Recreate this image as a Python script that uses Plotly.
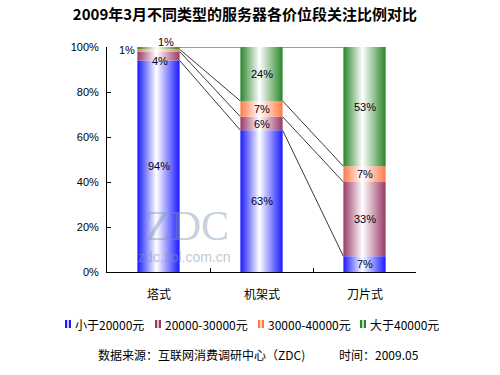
import plotly.graph_objects as go

categories = ["塔式", "机架式", "刀片式"]
series_names = ["小于20000元", "20000-30000元", "30000-40000元", "大于40000元"]
lt_20000 = [94, 63, 7]
s_20000_30000 = [4, 6, 33]
s_30000_40000 = [1, 7, 7]
gt_40000 = [1, 24, 53]
y_ticks = [0, 20, 40, 60, 80, 100]
y_tick_labels = ["0%", "20%", "40%", "60%", "80%", "100%"]

series_values = [lt_20000, s_20000_30000, s_30000_40000, gt_40000]
colors = ["#1a1aff", "#993a66", "#ff7a45", "#2a862a"]
light = ["#c8c8ff", "#dcc0cc", "#ffd0bc", "#bcdcbc"]

FONT = "Liberation Sans, Arial, Noto Sans CJK SC, sans-serif"
CJK = "Noto Sans CJK SC, sans-serif"
W = 0.41  # bar width in category units

# layout geometry (pixels)
L, R, T, B = 107, 84, 47, 103
PW, PH = 500 - L - R, 375 - T - B


def px2x(px):
    return (px - L) / PW


def py2y(py):
    return (375 - B - py) / PH


fig = go.Figure()

n = len(categories)
cum = [[0] * n]
for vals in series_values:
    prev = cum[-1]
    cum.append([prev[i] + vals[i] for i in range(n)])

# series lines (between bars)
for lvl in range(1, len(cum)):
    for i in range(n - 1):
        fig.add_trace(go.Scatter(
            x=[i + W / 2, i + 1 - W / 2], y=[cum[lvl][i], cum[lvl][i + 1]],
            mode="lines", line=dict(color="#3a3a3a", width=1),
            showlegend=False, hoverinfo="skip"))

# gradient bars
for s, (name, vals, col) in enumerate(zip(series_names, series_values, colors)):
    for i in range(n):
        b, t = cum[s][i], cum[s + 1][i]
        fig.add_trace(go.Scatter(
            x=[i - W / 2, i + W / 2, i + W / 2, i - W / 2, i - W / 2],
            y=[b, b, t, t, b],
            fill="toself", mode="lines", line=dict(width=0, color=col),
            fillgradient=dict(type="horizontal",
                              colorscale=[[0, col], [0.45, "#ffffff"], [1, col]]),
            name=name, showlegend=False, hoverinfo="skip"))

# value labels
shifts = {(2, 0): (-32, 0), (3, 0): (7, 6), (1, 0): (1, -5)}
for s, vals in enumerate(series_values):
    for i in range(n):
        xs, ys = shifts.get((s, i), (0, 0))
        fig.add_annotation(x=i, y=(cum[s][i] + cum[s + 1][i]) / 2,
                           text=f"{vals[i]}%", showarrow=False,
                           xshift=xs, yshift=ys,
                           font=dict(family=FONT, size=11, color="#000022"))

# category labels
for i, c in enumerate(categories):
    fig.add_annotation(x=i, y=0, yref="y", text=c, showarrow=False,
                       yanchor="middle", yshift=-21,
                       font=dict(family=CJK, size=12, color="#000000"))
fig.add_annotation(x=-0.74, y=0, text="关注比例", showarrow=False,
                   yanchor="middle", yshift=-21,
                   font=dict(family=CJK, size=12, color="#000000"))

# watermark
fig.add_annotation(xref="paper", yref="paper", x=px2x(187), y=py2y(226),
                   xanchor="center", yanchor="middle",
                   text="ZDC", showarrow=False,
                   font=dict(family="Liberation Serif, serif", size=42,
                             color="rgba(130,150,180,0.45)"))
fig.add_annotation(xref="paper", yref="paper", x=px2x(184), y=py2y(257),
                   xanchor="center", yanchor="middle",
                   text="zdc.zol.com.cn", showarrow=False,
                   font=dict(family=FONT, size=14, color="rgba(130,150,180,0.55)"))

# manual legend (small gradient-like swatches + text)
leg_sym_px = [65, 155, 258, 360]
leg_y = 324
for k, (name, col, lt) in enumerate(zip(series_names, colors, light)):
    sx = leg_sym_px[k]
    for j, c in enumerate([col, lt, col]):
        fig.add_shape(type="rect", xref="paper", yref="paper",
                      x0=px2x(sx + 2 * j), x1=px2x(sx + 2 * j + 2),
                      y0=py2y(leg_y + 4), y1=py2y(leg_y - 4),
                      line=dict(width=0), fillcolor=c)
    fig.add_annotation(xref="paper", yref="paper", x=px2x(sx + 8), y=py2y(leg_y),
                       xanchor="left", yanchor="middle", text=name,
                       showarrow=False,
                       font=dict(family=CJK, size=12, color="#000000"))

# source
fig.add_annotation(xref="paper", yref="paper", x=px2x(96), y=py2y(354),
                   xanchor="left", yanchor="middle",
                   text="数据来源：互联网消费调研中心（ZDC)", showarrow=False,
                   font=dict(family=CJK, size=12, color="#000000"))
fig.add_annotation(xref="paper", yref="paper", x=px2x(337), y=py2y(354),
                   xanchor="left", yanchor="middle",
                   text="时间：2009.05", showarrow=False,
                   font=dict(family=CJK, size=12, color="#000000"))

fig.update_layout(
    width=500, height=375,
    margin=dict(l=L, r=R, t=T, b=B),
    paper_bgcolor="white", plot_bgcolor="white",
    title=dict(text="<b>2009年3月不同类型的服务器各价位段关注比例对比</b>",
               x=0.49, xanchor="center", y=0.96, yanchor="middle",
               font=dict(family=CJK, size=15, color="#000000")),
    showlegend=False,
    xaxis=dict(range=[-0.5, 2.5], tickvals=[0.5, 1.5, 2.5],
               ticktext=["", "", ""], ticks="inside", ticklen=4,
               tickcolor="black", showline=True, linecolor="black",
               showgrid=False, zeroline=False, fixedrange=True),
    yaxis=dict(range=[0, 100], tickmode="array", tickvals=y_ticks,
               ticktext=y_tick_labels,
               ticks="inside", ticklen=4, tickcolor="black",
               showline=True, linecolor="black", showgrid=False,
               zeroline=False, ticklabelstandoff=5, fixedrange=True,
               tickfont=dict(family=FONT, size=11, color="#000000")),
)

fig.write_html("out.html", config={"displayModeBar": False},
               post_script="document.body.style.margin='0';document.body.style.padding='0';")
